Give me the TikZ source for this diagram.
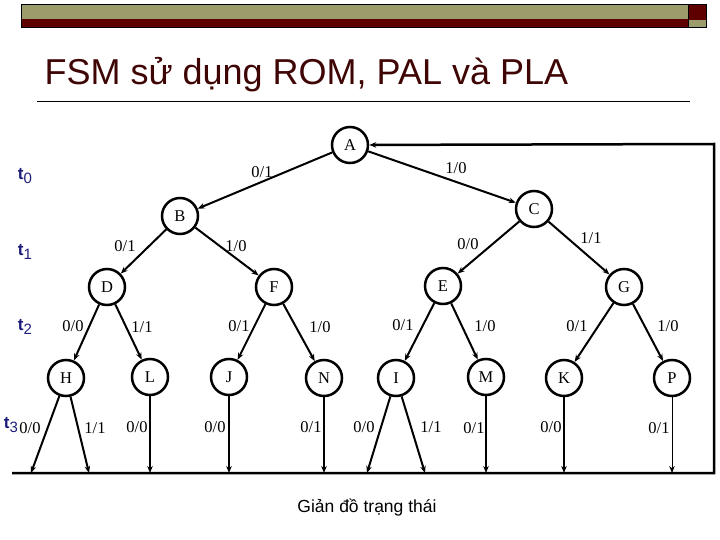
\documentclass[tikz,border=0pt]{standalone}
\usepackage{fontspec}
\setmainfont{Liberation Serif}
\newfontfamily\headfont{Liberation Sans}
\usetikzlibrary{arrows.meta}
\definecolor{barOlive}{HTML}{9B9B6B}
\definecolor{barRed}{HTML}{5E0000}
\definecolor{titleRed}{HTML}{3F0505}
\definecolor{tickBlue}{HTML}{1C1C7A}
\newcommand{\tlab}[1]{{\bfseries t}\raisebox{-0.35ex}{\fontsize{15}{15}\selectfont #1}}

\begin{document}
\begin{tikzpicture}[x=1pt, y=-1pt,
    st/.style={circle, draw, line width=2.5pt, minimum size=36pt, inner sep=0pt,
      font=\fontsize{16.5}{16.5}\selectfont},
    tr/.style={-{Stealth[length=7pt, width=5.5pt]}, line width=2pt},
    lbl/.style={font=\fontsize{16.5}{16.5}\selectfont, inner sep=1pt},
    tk/.style={font=\headfont\fontsize{17}{17}\selectfont, text=tickBlue, inner sep=0pt}]
    \useasboundingbox (0,0) rectangle (720,540);
    % bandeau
    \fill[barOlive] (21,5) rectangle (688,19);
    \fill[barRed] (21,19) rectangle (688,28);
    \fill[barRed] (688,5) rectangle (706,20);
    \fill[barOlive] (688,20) rectangle (706,28);
    \draw[line width=1pt] (21,5) rectangle (706,28);
    \draw[line width=0.8pt] (688,5) -- (688,28);
    \node[anchor=base west, font=\headfont\fontsize{36}{36}\selectfont, text=titleRed]
      (title) at (41,85) {FSM sử dụng ROM, PAL và PLA};
    \draw[line width=1pt] (37,102) -- (690,102);
    % etats
    \node[st] (A) at (350,145) {A};
    \node[st] (B) at (180,216) {B};
    \node[st] (C) at (534,209) {C};
    \node[st] (D) at (107,287) {D};
    \node[st] (F) at (274,287) {F};
    \node[st] (E) at (443,286) {E};
    \node[st] (G) at (624,287) {G};
    \node[st] (H) at (66,378) {H};
    \node[st] (L) at (150,377) {L};
    \node[st] (J) at (229,377) {J};
    \node[st] (N) at (324,378) {N};
    \node[st] (I) at (396,378) {I};
    \node[st] (M) at (486,377) {M};
    \node[st] (K) at (564,378) {K};
    \node[st] (P) at (672,378) {P};
    \draw[tr] (A) -- (B); \draw[tr] (A) -- (C);
    \draw[tr] (B) -- (D); \draw[tr] (B) -- (F);
    \draw[tr] (C) -- (E); \draw[tr] (C) -- (G);
    \draw[tr] (D) -- (H); \draw[tr] (D) -- (L);
    \draw[tr] (F) -- (J); \draw[tr] (F) -- (N);
    \draw[tr] (E) -- (I); \draw[tr] (E) -- (M);
    \draw[tr] (G) -- (K); \draw[tr] (G) -- (P);
    % retour vers A
    \coordinate (bl) at (12,473);
    \coordinate (br) at (714,473);
    \coordinate (tr) at (714,144);
    \draw[tr, line width=2.5pt] (bl) -- (br) -- (tr) -- (A);
    \coordinate (h0) at (31,473);  \coordinate (h1) at (89,473);
    \coordinate (l0) at (150,473); \coordinate (j0) at (229,473);
    \coordinate (n0) at (324,473); \coordinate (i0) at (367,473);
    \coordinate (i1) at (425,473); \coordinate (m0) at (486,473);
    \coordinate (k0) at (564,473); \coordinate (p0) at (672,473);
    \draw[tr] (H) -- (h0); \draw[tr] (H) -- (h1);
    \draw[tr] (L) -- (l0); \draw[tr] (J) -- (j0);
    \draw[tr] (N) -- (n0); \draw[tr] (I) -- (i0);
    \draw[tr] (I) -- (i1); \draw[tr] (M) -- (m0);
    \draw[tr] (K) -- (k0); \draw[tr, line width=1pt] (P) -- (p0);
    % etiquettes
    \node[lbl] (lAB) at (262,172) {0/1};
    \node[lbl] (lAC) at (456,168) {1/0};
    \node[lbl] (lBD) at (125,246) {0/1};
    \node[lbl] (lBF) at (236,246) {1/0};
    \node[lbl] (lCE) at (468,244) {0/0};
    \node[lbl] (lCG) at (591,238) {1/1};
    \node[lbl] (lDH) at (73,326) {0/0};
    \node[lbl] (lDL) at (142,327) {1/1};
    \node[lbl] (lFJ) at (239,326) {0/1};
    \node[lbl] (lFN) at (320,327) {1/0};
    \node[lbl] (lEI) at (403,325) {0/1};
    \node[lbl] (lEM) at (485,326) {1/0};
    \node[lbl] (lGK) at (577,326) {0/1};
    \node[lbl] (lGP) at (668,326) {1/0};
    \node[lbl] (lH0) at (30,428) {0/0};
    \node[lbl] (lH1) at (95,428) {1/1};
    \node[lbl] (lL0) at (137,427) {0/0};
    \node[lbl] (lJ0) at (215,427) {0/0};
    \node[lbl] (lN0) at (311,427) {0/1};
    \node[lbl] (lI0) at (364,427) {0/0};
    \node[lbl] (lI1) at (431,427) {1/1};
    \node[lbl] (lM0) at (474,428) {0/1};
    \node[lbl] (lK0) at (551,427) {0/0};
    \node[lbl] (lP0) at (659,428) {0/1};
    % temps
    \node[tk] (t0) at (25,176) {\tlab{0}};
    \node[tk] (t1) at (25,252) {\tlab{1}};
    \node[tk] (t2) at (25,327) {\tlab{2}};
    \node[tk] (t3) at (11,425) {\tlab{3}};
    \node[font=\headfont\fontsize{17.5}{17.5}\selectfont] (cap) at (367,508) {Giản đồ trạng thái};
\end{tikzpicture}
\end{document}
